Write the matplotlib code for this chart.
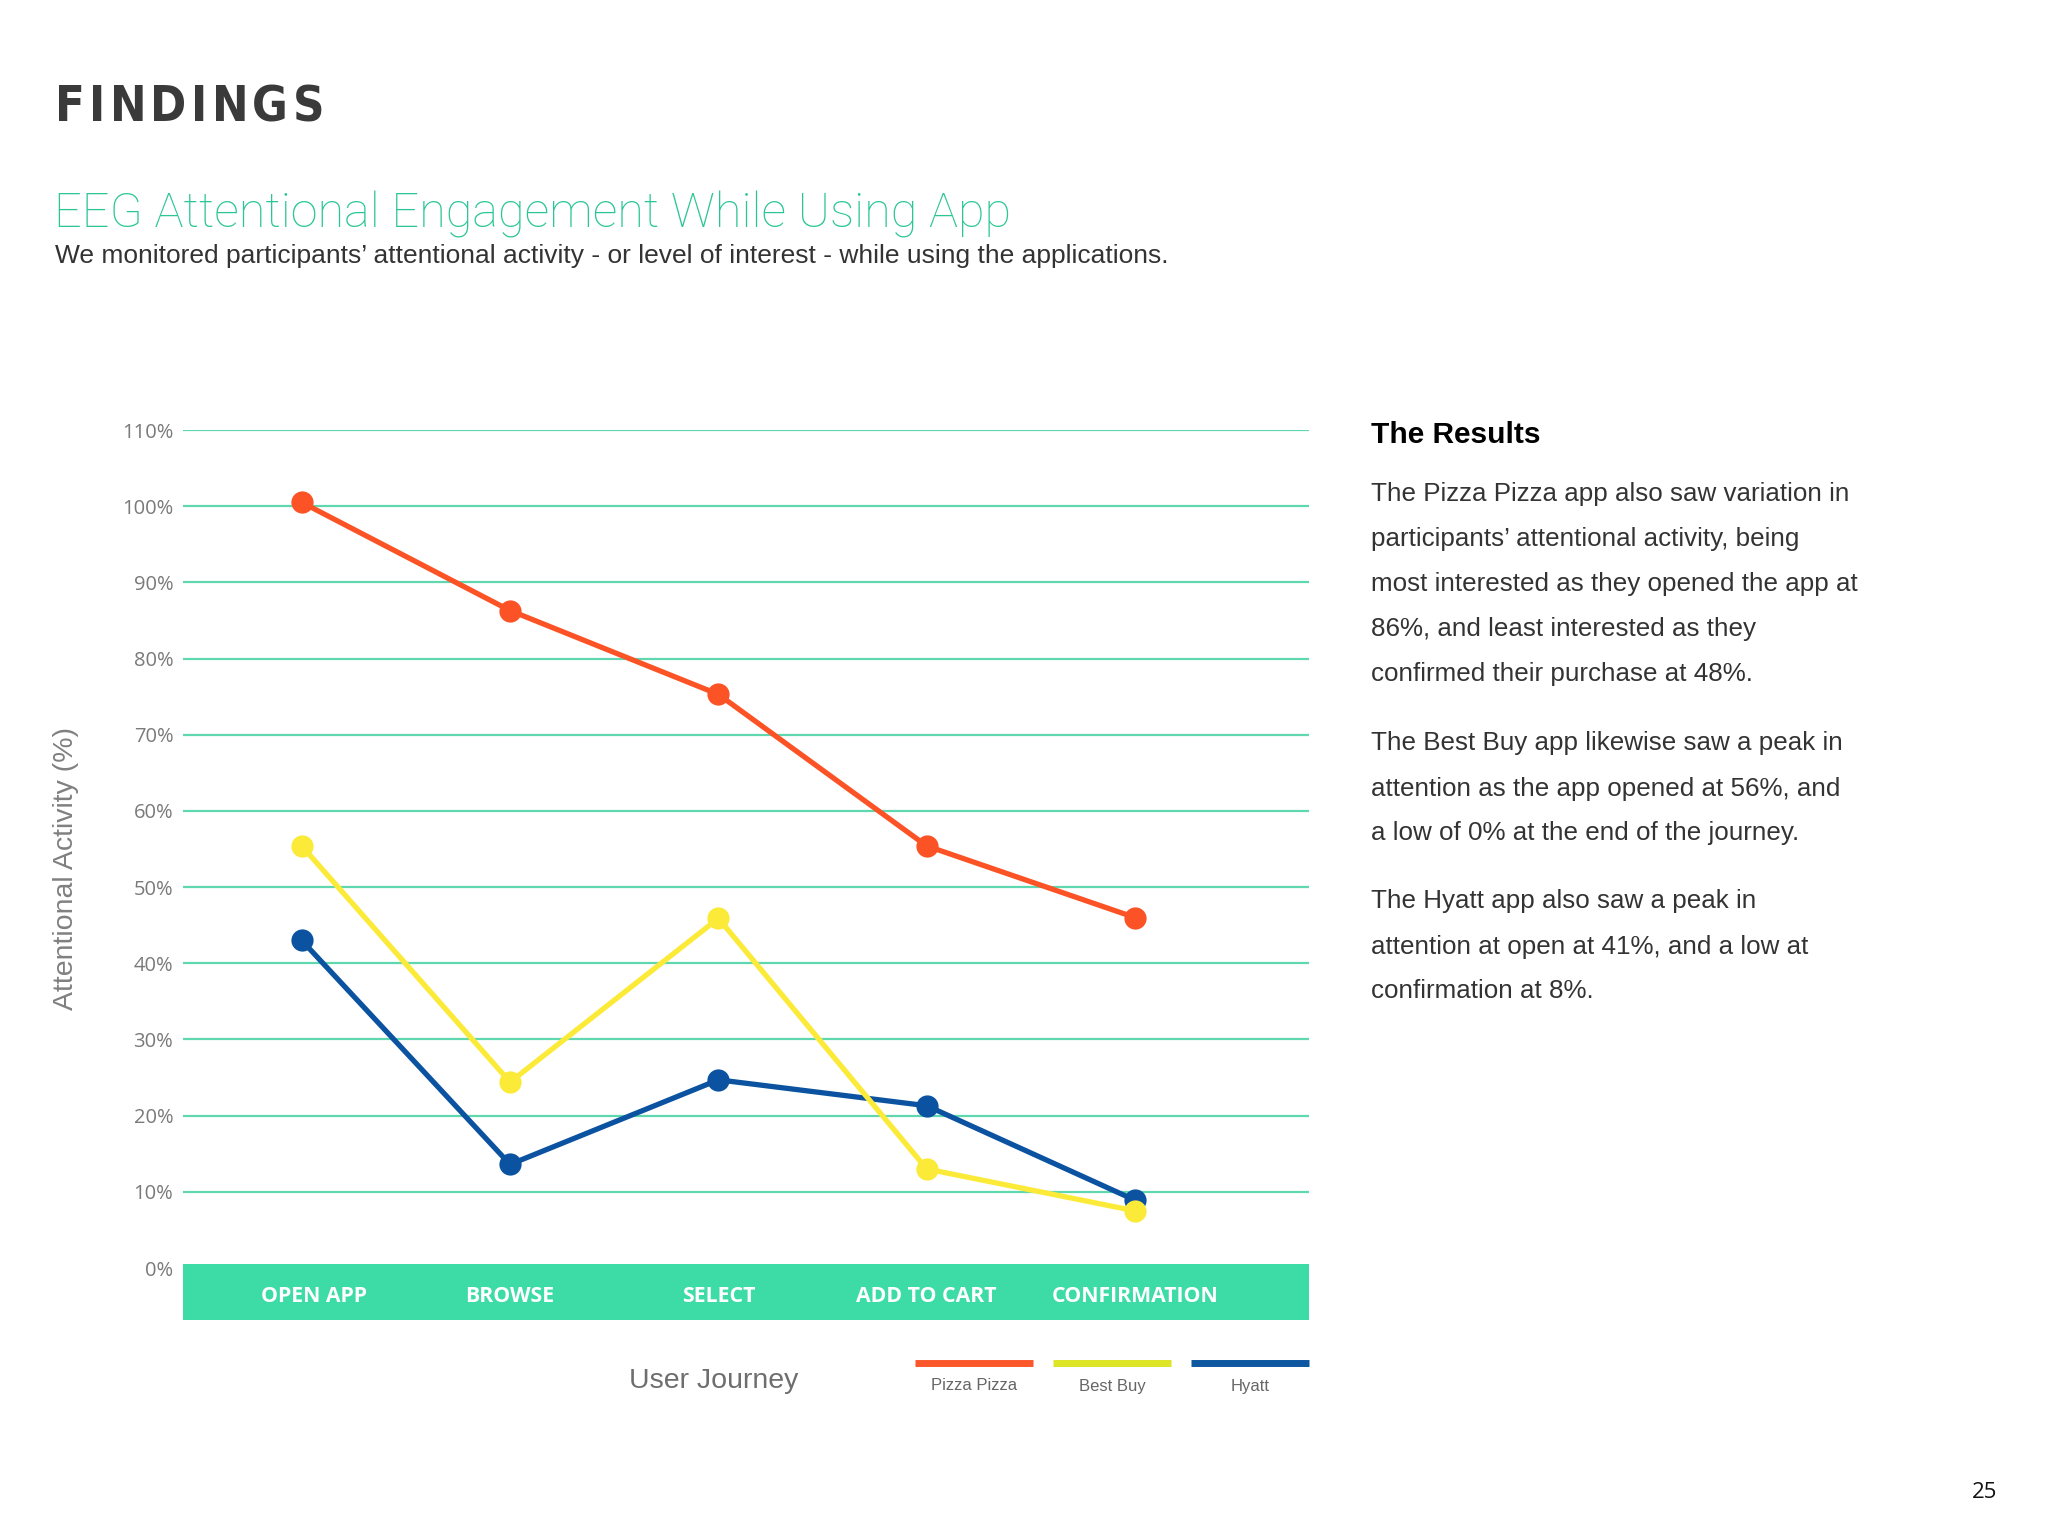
import matplotlib
matplotlib.use("Agg")
import matplotlib.pyplot as plt
from matplotlib.lines import Line2D
from matplotlib import font_manager

# ---------------- data ----------------
stages = ["OPEN APP", "BROWSE", "SELECT", "ADD TO CART", "CONFIRMATION"]
pizza_pizza = [100.5, 86.3, 75.3, 55.4, 46.0]
best_buy = [55.4, 24.4, 45.9, 13.0, 7.5]
hyatt = [43.0, 13.6, 24.7, 21.3, 8.9]
series_names = ["Pizza Pizza", "Best Buy", "Hyatt"]
y_ticks = list(range(0, 111, 10))
y_tick_labels = [f"{v}%" for v in y_ticks]

results_lines = [
    "The Pizza Pizza app also saw variation in",
    "participants\u2019 attentional activity, being",
    "most interested as they opened the app at",
    "86%, and least interested as they",
    "confirmed their purchase at 48%.",
    "The Best Buy app likewise saw a peak in",
    "attention as the app opened at 56%, and",
    "a low of 0% at the end of the journey.",
    "The Hyatt app also saw a peak in",
    "attention at open at 41%, and a low at",
    "confirmation at 8%.",
]

# ---------------- style ----------------
W, H = 2048, 1536
ORANGE = "#fc5326"
YELLOW = "#fcea38"
BLUE = "#0b52a0"
LEG_COLORS = ["#fb572b", "#dde526", "#0d56a0"]
TEAL = "#3ddca6"
GRID = "#5fd8b0"
HELV = "Liberation Sans"

# pick a condensed bold face for the page heading if one is installed
heading_font, heading_stretch, heading_size = "Open Sans", "normal", 31
for f in font_manager.fontManager.ttflist:
    if f.name == "Liberation Sans Narrow":
        heading_font, heading_stretch, heading_size = "Liberation Sans Narrow", "normal", 38
        break
else:
    for f in font_manager.fontManager.ttflist:
        if f.name == "DejaVu Sans" and "Condensed" in f.fname and "Bold" in f.fname:
            heading_font, heading_stretch, heading_size = "DejaVu Sans", "condensed", 35
            break

fig = plt.figure(figsize=(W / 100, H / 100), dpi=100)
fig.patch.set_facecolor("white")


def fx(px):
    return px / W


def fy(py):
    return 1 - py / H


# ---------------- main axes ----------------
ax = fig.add_axes([fx(183), fy(1268), fx(1126), (1268 - 430) / H])
ax.set_xlim(-0.57, 4.835)
ax.set_ylim(0, 110)
for s in ax.spines.values():
    s.set_visible(False)
ax.set_xticks([])
ax.set_yticks(y_ticks)
ax.set_yticklabels(y_tick_labels, fontfamily="Open Sans", fontsize=14.5, color="#7a7a7a")
ax.tick_params(axis="y", length=0, pad=7)
ax.grid(axis="y", color=GRID, linewidth=1.6)
ax.set_axisbelow(True)

x = list(range(len(stages)))
for vals, col in [(pizza_pizza, ORANGE), (hyatt, BLUE), (best_buy, YELLOW)]:
    ax.plot(x, vals, color=col, linewidth=3.8, marker="o", markersize=16,
            markeredgewidth=0, clip_on=False, zorder=3)

# ---------------- category band ----------------
band = fig.add_axes([fx(183), fy(1320), fx(1126), 56 / H])
band.set_facecolor(TEAL)
band.set_xlim(ax.get_xlim())
band.set_ylim(0, 1)
band.set_xticks([])
band.set_yticks([])
for s in band.spines.values():
    s.set_visible(False)
for i, lab in enumerate(stages):
    band.text(i + (0.06 if i == 0 else 0), 0.42, lab, ha="center", va="center", color="white",
              fontfamily="Open Sans", fontweight="bold", fontsize=15.3)

# ---------------- axis titles ----------------
fig.text(fx(66), fy(868), "Attentional Activity (%)", rotation=90, ha="center", va="center",
         fontfamily=HELV, fontsize=20.5, color="#808080")
fig.text(fx(714), fy(1381), "User Journey", ha="center", va="center",
         fontfamily=HELV, fontsize=20.5, color="#6e6e6e")

# ---------------- legend ----------------
leg_x = [(915, 1033), (1053, 1171), (1191, 1309)]
for (x0, x1), col, name in zip(leg_x, LEG_COLORS, series_names):
    fig.add_artist(Line2D([fx(x0), fx(x1)], [fy(1363), fy(1363)], transform=fig.transFigure,
                          color=col, linewidth=5, solid_capstyle="butt"))
    fig.text(fx((x0 + x1) / 2), fy(1386), name, ha="center", va="center",
             fontfamily=HELV, fontsize=12, color="#666666")

# ---------------- headings ----------------
renderer = fig.canvas.get_renderer()
letters = "FINDINGS"
target_w = 269
tmp = []
for ch in letters:
    t = fig.text(fx(55), fy(121), ch, ha="left", va="baseline", fontfamily=heading_font,
                 fontstretch=heading_stretch, fontweight="bold", fontsize=heading_size,
                 color="#3a3a3a")
    tmp.append(t)
widths = [t.get_window_extent(renderer).width for t in tmp]
gap = max(2.0, (target_w - sum(widths)) / (len(letters) - 1))
cx = 55
for t, w in zip(tmp, widths):
    t.set_x(fx(cx))
    cx += w + gap

fig.text(fx(54), fy(228), "EEG Attentional Engagement While Using App", ha="left", va="baseline",
         fontfamily="Roboto", fontweight="light", fontsize=35, color="#2cc696")
fig.text(fx(55), fy(263), "We monitored participants\u2019 attentional activity - or level of interest - while using the applications.",
         ha="left", va="baseline", fontfamily=HELV, fontsize=19, color="#333333")

# ---------------- right panel text ----------------
fig.text(fx(1371), fy(435), "The Results", ha="left", va="center", fontfamily=HELV,
         fontweight="bold", fontsize=21.5, color="#000000")
line_y = [494, 539, 584, 629, 674, 743, 789, 833, 901, 947, 991]
for yy, txt in zip(line_y, results_lines):
    fig.text(fx(1371), fy(yy), txt, ha="left", va="center", fontfamily=HELV,
             fontsize=18.7, color="#333333")

fig.text(fx(1997), fy(1492), "25", ha="right", va="center", fontfamily="Open Sans",
         fontsize=16, color="#111111")

fig.savefig("out.png", dpi=100, facecolor="white")
